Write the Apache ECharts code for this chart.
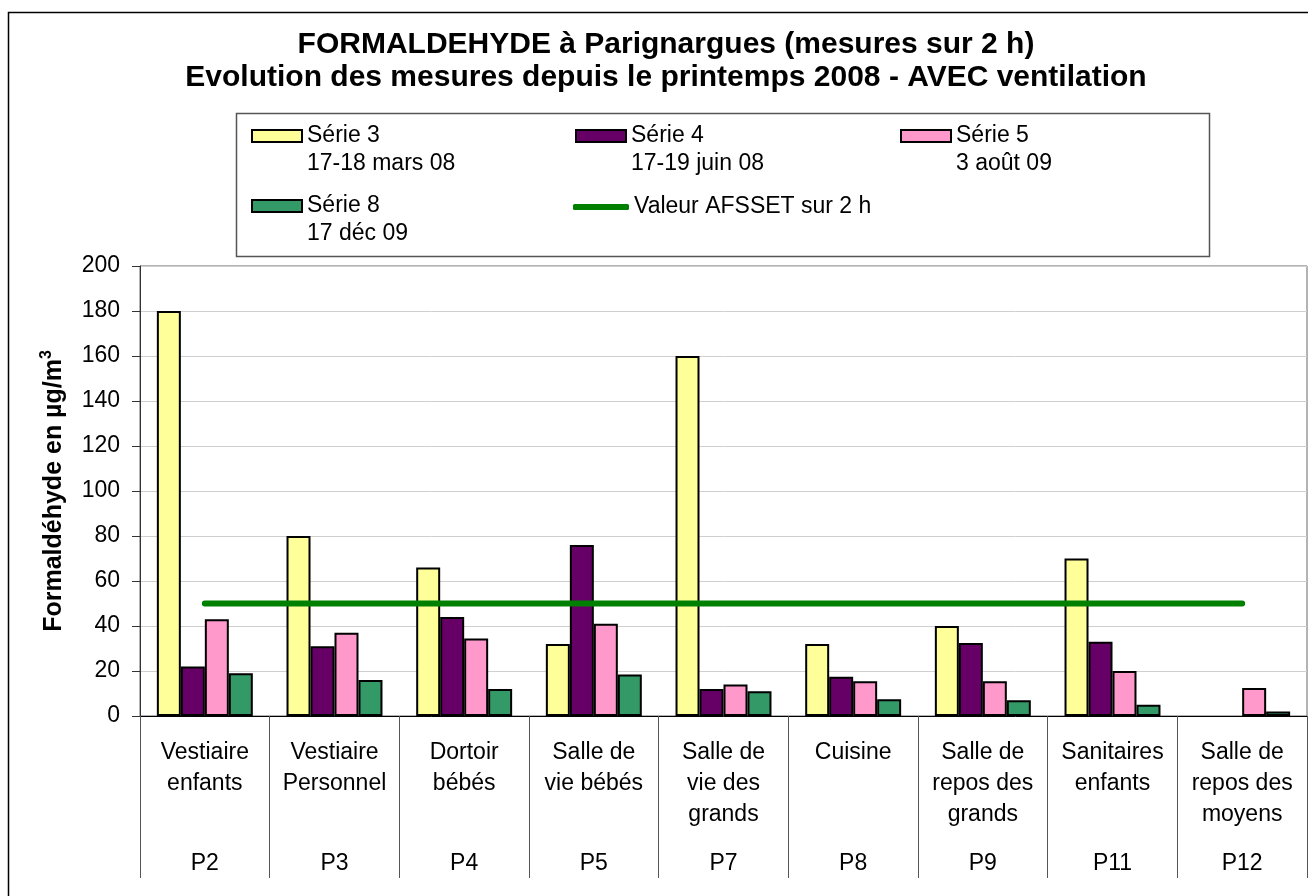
<!DOCTYPE html>
<html>
<head>
<meta charset="utf-8">
<script src="https://cdn.jsdelivr.net/npm/echarts@6/dist/echarts.min.js"></script>
<style>
  html, body { margin: 0; padding: 0; background: #fff; }
  #chart { width: 1308px; height: 896px; }
</style>
</head>
<body>
<div id="chart"></div>
<script>
// rooms (first label row) and sampling points (second label row)
const rooms = ['Vestiaire\nenfants', 'Vestiaire\nPersonnel', 'Dortoir\nbébés', 'Salle de\nvie bébés',
  'Salle de\nvie des\ngrands', 'Cuisine', 'Salle de\nrepos des\ngrands', 'Sanitaires\nenfants',
  'Salle de\nrepos des\nmoyens']
const points = ['P2', 'P3', 'P4', 'P5', 'P7', 'P8', 'P9', 'P11', 'P12']

// measures in µg/m3
const serie3 = [180, 80, 66, 32, 160, 32, 40, 70, null]
const serie4 = [22, 31, 44, 76, 12, 17.5, 32.5, 33, null]
const serie5 = [43, 37, 34.5, 41, 14, 15.5, 15.5, 20, 12.5]
const serie8 = [19, 16, 12, 18.5, 11, 7.5, 7, 5, 2]
const afsset = [50, 50, 50, 50, 50, 50, 50, 50, 50]

const serieNames = ['Série 3', 'Série 4', 'Série 5', 'Série 8', 'Valeur AFSSET sur 2 h']
const serieDates = ['17-18 mars 08', '17-19 juin 08', '3 août 09', '17 déc 09']

const yMin = 0
const yMax = 200
const yStep = 20

const font = 'Arial, "Liberation Sans", sans-serif'
const chart = echarts.init(document.getElementById('chart'))

function barLegend(i, left, top) {
  return {
    left, top, padding: 0,
    icon: 'rect',
    itemWidth: 50, itemHeight: 12,
    data: [serieNames[i]],
    formatter: name => '\n' + name + '\n' + serieDates[i],
    textStyle: { fontFamily: font, fontSize: 23, lineHeight: 28, color: '#000' }
  }
}

function barSerie(i, data, color) {
  return {
    name: serieNames[i],
    type: 'bar',
    data,
    barGap: '0%',
    barCategoryGap: '26%',
    itemStyle: { color, borderColor: '#000', borderWidth: 2 }
  }
}

chart.setOption({
  animation: false,
  backgroundColor: '#fff',
  title: {
    text: 'FORMALDEHYDE à Parignargues (mesures sur 2 h)\nEvolution des mesures depuis le printemps 2008 - AVEC ventilation',
    left: 666, top: 28, padding: 0,
    textAlign: 'center',
    textStyle: { fontFamily: font, fontSize: 30, fontWeight: 'bold', lineHeight: 33, color: '#000' }
  },
  graphic: [
    { type: 'rect', shape: { x: 8.5, y: 12.5, width: 1400, height: 1000 },
      style: { fill: 'none', stroke: '#000', lineWidth: 1.5 }, silent: true },
    { type: 'rect', shape: { x: 236.5, y: 113.5, width: 973, height: 143 },
      style: { fill: 'none', stroke: '#555', lineWidth: 1.5 }, silent: true }
  ],
  legend: [
    barLegend(0, 251, 94),
    barLegend(1, 575, 94),
    barLegend(2, 900, 94),
    barLegend(3, 251, 164),
    {
      left: 573, top: 189, padding: 0,
      itemWidth: 56, itemHeight: 6, icon: 'roundRect',
      data: [serieNames[4]],
      textStyle: { fontFamily: font, fontSize: 23, lineHeight: 28, color: '#000', padding: [8, 0, 0, 0] }
    }
  ],
  grid: {
    left: 140, right: 1, top: 266, bottom: 180,
    show: true, borderColor: '#666', borderWidth: 1
  },
  xAxis: [
    {
      type: 'category',
      data: rooms,
      axisLine: { lineStyle: { color: '#000', width: 1 } },
      axisTick: { show: true, interval: 0, alignWithLabel: false, length: 162, lineStyle: { color: '#555', width: 1 } },
      axisLabel: { interval: 0, margin: 21, fontFamily: font, fontSize: 23, lineHeight: 31, color: '#000' }
    },
    {
      type: 'category',
      position: 'bottom',
      offset: 112,
      data: points,
      axisLine: { show: false },
      axisTick: { show: false },
      axisLabel: { interval: 0, margin: 20, fontFamily: font, fontSize: 23, lineHeight: 31, color: '#000' }
    }
  ],
  yAxis: {
    type: 'value',
    min: yMin, max: yMax, interval: yStep,
    name: '{a|Formaldéhyde en µg/m}{b|3}',
    nameLocation: 'middle',
    nameGap: 71,
    nameTextStyle: {
      fontFamily: font, fontSize: 25, fontWeight: 'bold', color: '#000',
      rich: {
        a: { fontFamily: font, fontSize: 25, fontWeight: 'bold', color: '#000', lineHeight: 30 },
        b: { fontFamily: font, fontSize: 16, fontWeight: 'bold', color: '#000', verticalAlign: 'top', lineHeight: 30 }
      }
    },
    axisLine: { show: true, lineStyle: { color: '#333', width: 1 } },
    axisTick: { show: true, length: 8, lineStyle: { color: '#333' } },
    axisLabel: { margin: 20, fontFamily: font, fontSize: 23, color: '#000' },
    splitLine: { lineStyle: { color: '#cfcfcf', width: 1 } }
  },
  series: [
    barSerie(0, serie3, '#FFFF99'),
    barSerie(1, serie4, '#660066'),
    barSerie(2, serie5, '#FF99CC'),
    barSerie(3, serie8, '#339966'),
    {
      name: serieNames[4],
      type: 'line',
      data: afsset,
      showSymbol: false,
      symbol: 'none',
      itemStyle: { color: '#008000' },
      lineStyle: { color: '#008000', width: 6, cap: 'round' },
      z: 5
    }
  ]
})
</script>
</body>
</html>
